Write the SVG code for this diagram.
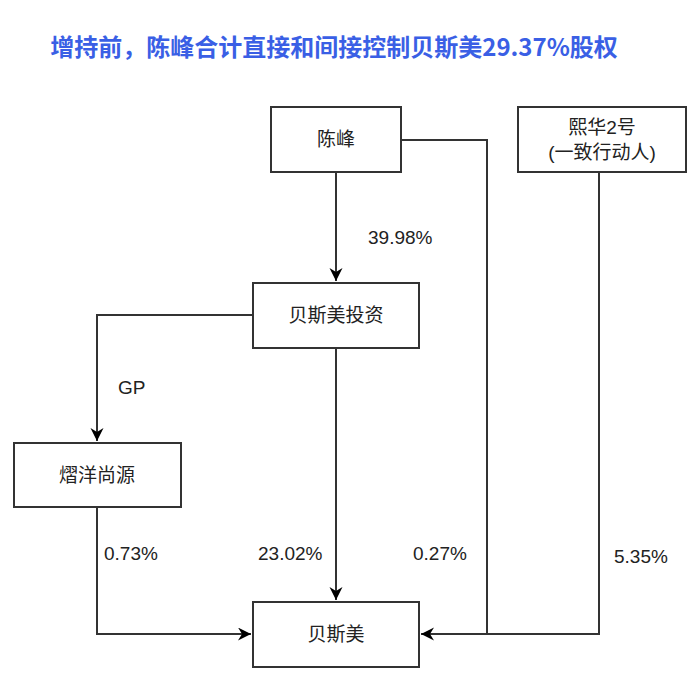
<svg xmlns="http://www.w3.org/2000/svg" width="700" height="684" viewBox="0 0 700 684">
<defs>
<style>
.box{fill:#fff;stroke:#333;stroke-width:2}
.lbl{font-family:"Liberation Sans","Noto Sans CJK SC",sans-serif;font-size:19px;fill:#222;text-anchor:middle}
.pct{font-family:"Liberation Sans","Noto Sans CJK SC",sans-serif;font-size:19px;fill:#222}
.ln{fill:none;stroke:#333;stroke-width:2}
.title{font-family:"Noto Sans CJK SC",sans-serif;font-size:24px;font-weight:bold;fill:#3a5fe5;text-anchor:middle}
</style>
<marker id="arr" markerUnits="userSpaceOnUse" markerWidth="14" markerHeight="14" refX="13" refY="6.5" orient="auto">
<path d="M13,6.5 L0,0 L4,6.5 L0,13 Z" fill="#000"/>
</marker>
</defs>
<rect width="700" height="684" fill="#fff"/>
<text class="title" x="334" y="56">增持前，陈峰合计直接和间接控制贝斯美29.37%股权</text>
<g id="connectors">
<path class="ln" d="M336,172 V281" stroke="#000" marker-end="url(#arr)"/>
<path class="ln" d="M253,315 H97 V441" marker-end="url(#arr)"/>
<path class="ln" d="M336,348 V600" marker-end="url(#arr)"/>
<path class="ln" d="M97,507 V634 H251" marker-end="url(#arr)"/>
<path class="ln" d="M401,140 H487 V634"/>
<path class="ln" d="M599,172 V634 H421" marker-end="url(#arr)"/>
<text class="pct" x="368" y="244">39.98%</text>
<text class="pct" x="118" y="394">GP</text>
<text class="pct" x="104" y="560">0.73%</text>
<text class="pct" x="258" y="560">23.02%</text>
<text class="pct" x="413" y="560">0.27%</text>
<text class="pct" x="614" y="563">5.35%</text>
</g>
<g id="chenfeng">
<rect class="box" x="271" y="107" width="130" height="65"/>
<text class="lbl" x="336" y="146">陈峰</text>
</g>
<g id="xihua">
<rect class="box" x="518" y="107" width="168" height="65"/>
<text class="lbl" x="602" y="134">熙华2号</text>
<text class="lbl" x="602" y="159">(一致行动人)</text>
</g>
<g id="besmetz">
<rect class="box" x="253" y="283" width="166" height="65"/>
<text class="lbl" x="336" y="322">贝斯美投资</text>
</g>
<g id="yiyang">
<rect class="box" x="14" y="443" width="167" height="64"/>
<text class="lbl" x="97" y="482">熠洋尚源</text>
</g>
<g id="besme">
<rect class="box" x="253" y="602" width="166" height="65"/>
<text class="lbl" x="336" y="641">贝斯美</text>
</g>
</svg>
